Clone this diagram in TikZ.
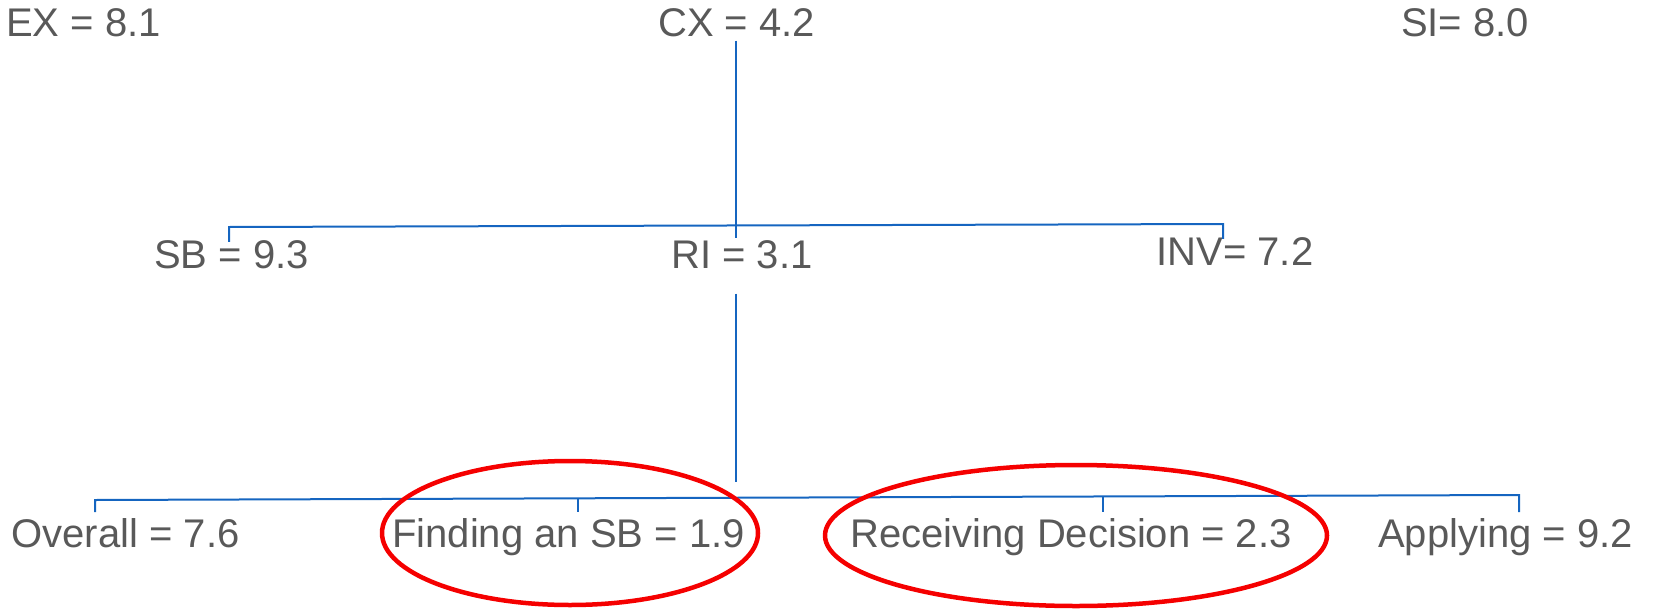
\documentclass[tikz,border=0pt]{standalone}
\usepackage{fontspec}
\setmainfont{Liberation Sans}
\definecolor{labelgray}{RGB}{89,89,89}
\definecolor{treeblue}{RGB}{21,101,192}
\definecolor{markred}{RGB}{245,0,0}
\begin{document}
\begin{tikzpicture}[x=1pt,y=-1pt,
  lbl/.style={inner sep=0pt, anchor=base, text=labelgray, font=\fontsize{40}{48}\selectfont},
  branch/.style={draw=treeblue, line width=2pt},
  ring/.style={draw=markred, line width=4.5pt}]
\useasboundingbox (0,0) rectangle (1656,610);

% top row
\node[lbl] (ex) at (83.5,37) {EX = 8.1};
\node[lbl] (cx) at (736.5,37) {CX = 4.2};
\node[lbl] (si) at (1465,37) {SI= 8.0};

% middle row
\node[lbl] (sb)  at (231.5,268) {SB = 9.3};
\node[lbl] (ri)  at (742,268) {RI = 3.1};
\node[lbl] (inv) at (1235,265) {INV= 7.2};

% bottom row
\node[lbl] (overall)   at (125.5,547) {Overall = 7.6};
\node[lbl] (finding)   at (568.5,547) {Finding an SB = 1.9};
\node[lbl] (receiving) at (1071,547) {Receiving Decision = 2.3};
\node[lbl] (applying)  at (1505.5,547) {Applying = 9.2};

% bar joints and tick ends
\coordinate (b2l) at (229,227);
\coordinate (b2r) at (1223,224);
\coordinate (b3l) at (95,500);
\coordinate (b3r) at (1519,495);
\coordinate (stem) at (736,0);
\coordinate (tickend) at (0,512);

% CX down through the middle bar
\draw[branch] ([yshift=-3pt]cx.south -| stem) -- ([yshift=2pt]ri.north -| stem);
% middle bar
\draw[branch] ([yshift=-2pt]sb.north -| b2l) -- (b2l) -- (b2r) -- ([yshift=-2pt]inv.north -| b2r);

% RI down towards the bottom bar
\draw[branch] ([yshift=-25pt]ri.south -| stem) -- (736,482);
% bottom bar
\draw[branch] (tickend -| b3l) -- (b3l) -- (b3r) -- (tickend -| b3r);
\draw[branch] (578,498.5) -- (tickend -| 578,0);
\draw[branch] (1103,497) -- (tickend -| 1103,0);

% highlight rings
\draw[ring] (570,533) ellipse [x radius=188, y radius=72];
\draw[ring] (1076,535.5) ellipse [x radius=251, y radius=70.5];
\end{tikzpicture}
\end{document}
